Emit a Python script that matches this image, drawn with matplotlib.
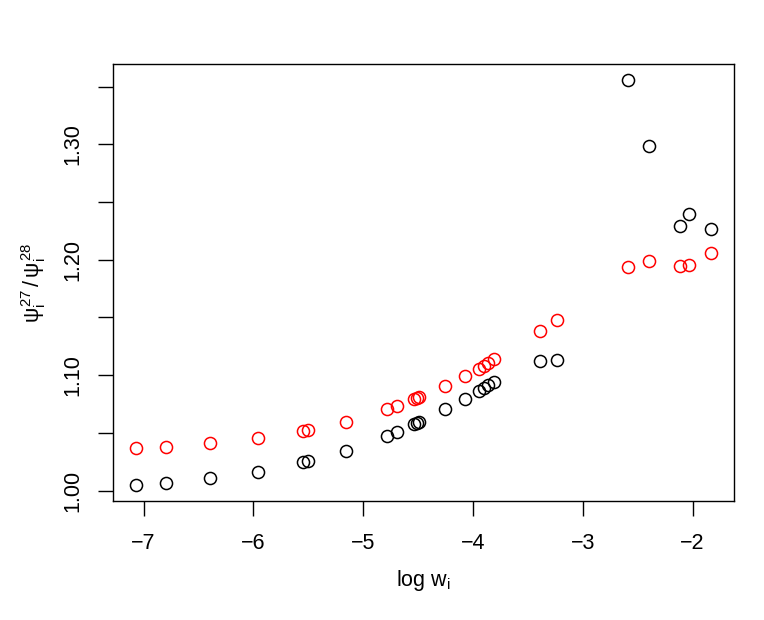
import matplotlib
matplotlib.use("Agg")
import matplotlib.pyplot as plt
import numpy as np

plt.rcParams['font.family'] = ['Liberation Sans', 'DejaVu Sans']
plt.rcParams['mathtext.fontset'] = 'custom'
plt.rcParams['mathtext.rm'] = 'Liberation Sans'
plt.rcParams['mathtext.it'] = 'Liberation Sans'

# log weights (shared by both series)
log_w = [-7.07, -6.80, -6.394, -5.955, -5.545, -5.503, -5.157, -4.787, -4.691,
         -4.536, -4.515, -4.491, -4.255, -4.078, -3.945, -3.903, -3.864, -3.809,
         -3.387, -3.236, -2.591, -2.394, -2.112, -2.036, -1.833]

# black series
ratio_black = [1.005, 1.0065, 1.0106, 1.0163, 1.0244, 1.0253, 1.0345, 1.0472, 1.0504,
               1.0574, 1.0585, 1.0594, 1.0704, 1.0793, 1.0865, 1.0891, 1.0914, 1.0938,
               1.1122, 1.1127, 1.3555, 1.2983, 1.2295, 1.2393, 1.2266]

# red series
ratio_red = [1.0366, 1.0380, 1.0409, 1.0452, 1.0518, 1.0524, 1.0596, 1.0706, 1.0732,
             1.0793, 1.0802, 1.0810, 1.0908, 1.0992, 1.1053, 1.1079, 1.1102, 1.1140,
             1.1385, 1.1477, 1.1939, 1.1989, 1.1945, 1.1954, 1.2055]

x_ticks = [-7, -6, -5, -4, -3, -2]
y_ticks = [1.00, 1.05, 1.10, 1.15, 1.20, 1.25, 1.30, 1.35]
y_labels = ["1.00", "", "1.10", "", "1.20", "", "1.30", ""]

fig = plt.figure(figsize=(7.64, 6.20), dpi=100)
ax = fig.add_axes([113 / 764, (620 - 501) / 620, (734 - 113) / 764, (501 - 64) / 620])

ax.plot(log_w, ratio_black, 'o', mfc='none', mec='black', ms=8.7, mew=1.1)
ax.plot(log_w, ratio_red, 'o', mfc='none', mec='red', ms=8.7, mew=1.1)

# R style 4% padding
def pad(vals):
    lo, hi = min(vals), max(vals)
    r = hi - lo
    return lo - 0.04 * r, hi + 0.04 * r

ax.set_xlim(*pad(log_w))
ax.set_ylim(*pad(ratio_black + ratio_red))

ax.set_xticks(x_ticks)
ax.set_xticklabels([f"\u2212{abs(t)}" for t in x_ticks])
ax.set_yticks(y_ticks)
ax.set_yticklabels(y_labels, rotation=90, va='center')

ax.tick_params(length=11, width=1, labelsize=15.5)
ax.tick_params(axis='x', pad=12)
ax.tick_params(axis='y', pad=10)
for s in ax.spines.values():
    s.set_linewidth(1)

ax.set_xlabel(r'log w$_\mathrm{i}$', fontsize=15.5, labelpad=10)
ax.set_ylabel(r'$\psi_\mathrm{i}^{27}\,/\,\psi_\mathrm{i}^{28}$', fontsize=15.5, labelpad=11)

fig.savefig('out.png', dpi=100)
